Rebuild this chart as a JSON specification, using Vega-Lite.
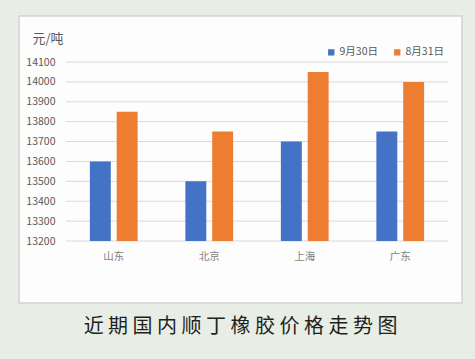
{
  "$schema": "https://vega.github.io/schema/vega-lite/v6.json",
  "width": 443,
  "height": 287,
  "autosize": "none",
  "padding": {"left": 19, "top": 16, "right": 13, "bottom": 56},
  "background": "#e8eee6",
  "config": {
    "view": {"fill": "#fdfdfd", "stroke": "#d2d2d2", "strokeWidth": 1.5},
    "font": "Noto Sans CJK SC"
  },
  "title": {
    "text": "近 期 国 内 顺 丁 橡 胶 价 格 走 势 图",
    "orient": "bottom",
    "anchor": "middle",
    "frame": "group",
    "offset": 14,
    "fontSize": 20,
    "fontWeight": "normal",
    "font": "Noto Sans CJK SC",
    "color": "#231f20"
  },
  "datasets": {
    "prices": [
      {"region": "山东", "series": "9月30日", "price": 13600},
      {"region": "山东", "series": "8月31日", "price": 13850},
      {"region": "北京", "series": "9月30日", "price": 13500},
      {"region": "北京", "series": "8月31日", "price": 13750},
      {"region": "上海", "series": "9月30日", "price": 13700},
      {"region": "上海", "series": "8月31日", "price": 14050},
      {"region": "广东", "series": "9月30日", "price": 13750},
      {"region": "广东", "series": "8月31日", "price": 14000}
    ],
    "grid": [
      {"v": 13200}, {"v": 13300}, {"v": 13400}, {"v": 13500}, {"v": 13600},
      {"v": 13700}, {"v": 13800}, {"v": 13900}, {"v": 14000}, {"v": 14100}
    ]
  },
  "layer": [
    {
      "data": {"name": "grid"},
      "mark": {"type": "rule", "color": "#d9d9d9", "strokeWidth": 1},
      "encoding": {
        "y": {
          "field": "v",
          "type": "quantitative",
          "scale": {"domain": [12888.3, 14331.3], "nice": false, "zero": false},
          "axis": {
            "values": [13200, 13300, 13400, 13500, 13600, 13700, 13800, 13900, 14000, 14100],
            "format": "d",
            "labelOverlap": false,
            "offset": -47,
            "labelPadding": 11,
            "domain": false,
            "ticks": false,
            "grid": false,
            "labelFontSize": 10.5,
            "labelColor": "#595959",
            "title": "元/吨",
            "titleAngle": 0,
            "titleX": -34,
            "titleY": 22,
            "titleAlign": "left",
            "titleBaseline": "middle",
            "titleFontSize": 13,
            "titleFontWeight": "normal",
            "titleColor": "#595959"
          }
        },
        "x": {
          "datum": "山东",
          "type": "nominal",
          "bandPosition": -0.5,
          "scale": {"domain": ["山东", "北京", "上海", "广东"], "paddingInner": 0.5, "paddingOuter": 0.5694, "align": 0.6517},
          "axis": {
            "title": null,
            "orient": "bottom",
            "offset": -62,
            "bandPosition": 0.5,
            "domain": false,
            "ticks": false,
            "labelPadding": 10,
            "labelAngle": 0,
            "labelAlign": "center",
            "labelFontSize": 10.5,
            "labelColor": "#7f7f7f"
          }
        },
        "x2": {"datum": "广东", "bandPosition": 1.5}
      }
    },
    {
      "data": {"name": "prices"},
      "mark": {"type": "bar"},
      "encoding": {
        "x": {
          "field": "region",
          "type": "nominal",
          "sort": ["山东", "北京", "上海", "广东"],
          "scale": {"domain": ["山东", "北京", "上海", "广东"], "paddingInner": 0.5, "paddingOuter": 0.5694, "align": 0.6517},
          "axis": {
            "title": null,
            "orient": "bottom",
            "offset": -62,
            "bandPosition": 0.5,
            "domain": false,
            "ticks": false,
            "labelPadding": 10,
            "labelAngle": 0,
            "labelAlign": "center",
            "labelFontSize": 10.5,
            "labelColor": "#7f7f7f"
          }
        },
        "xOffset": {
          "field": "series",
          "type": "nominal",
          "sort": ["9月30日", "8月31日"],
          "scale": {"domain": ["9月30日", "8月31日"], "paddingInner": 0.22, "paddingOuter": 0}
        },
        "y": {
          "field": "price",
          "type": "quantitative",
          "scale": {"domain": [12888.3, 14331.3], "nice": false, "zero": false},
          "axis": {
            "values": [13200, 13300, 13400, 13500, 13600, 13700, 13800, 13900, 14000, 14100],
            "format": "d",
            "labelOverlap": false,
            "offset": -47,
            "labelPadding": 11,
            "domain": false,
            "ticks": false,
            "grid": false,
            "labelFontSize": 10.5,
            "labelColor": "#595959",
            "title": "元/吨",
            "titleAngle": 0,
            "titleX": -34,
            "titleY": 22,
            "titleAlign": "left",
            "titleBaseline": "middle",
            "titleFontSize": 13,
            "titleFontWeight": "normal",
            "titleColor": "#595959"
          }
        },
        "y2": {"datum": 13200},
        "color": {
          "field": "series",
          "type": "nominal",
          "scale": {"domain": ["9月30日", "8月31日"], "range": ["#4472c4", "#ed7d31"]},
          "legend": {
            "orient": "none",
            "legendX": 307,
            "legendY": 31,
            "direction": "horizontal",
            "title": null,
            "symbolType": "square",
            "symbolSize": 40,
            "labelFontSize": 10.5,
            "labelColor": "#595959",
            "columnPadding": 14,
            "labelOffset": 3,
            "padding": 0
          }
        }
      }
    }
  ]
}
